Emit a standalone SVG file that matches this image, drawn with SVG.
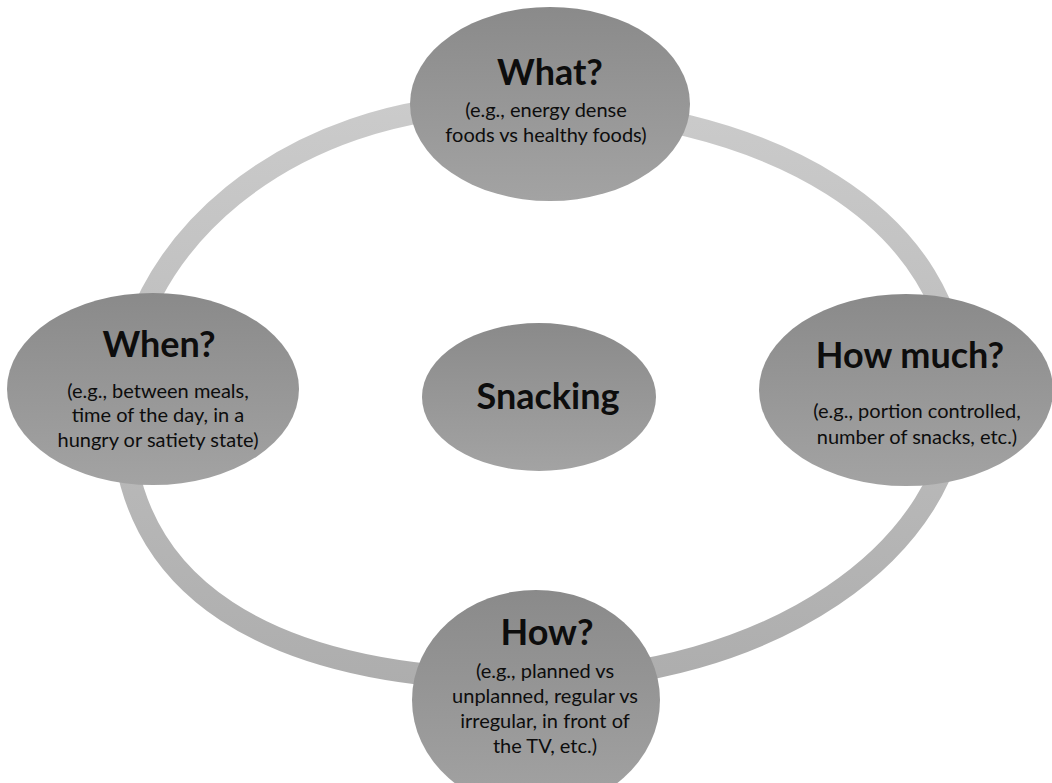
<svg xmlns="http://www.w3.org/2000/svg" width="1052" height="783" viewBox="0 0 1052 783">
  <defs>
    <!-- ring shading: lighter at the top, darker toward the bottom -->
    <linearGradient id="ringGrad" gradientUnits="userSpaceOnUse" x1="0" y1="100" x2="0" y2="690">
      <stop offset="0" stop-color="#cbcbcb"/>
      <stop offset="1" stop-color="#adadad"/>
    </linearGradient>
    <!-- node fill: darker top, lighter bottom -->
    <linearGradient id="nodeGrad" x1="0" y1="0" x2="0" y2="1">
      <stop offset="0" stop-color="#8a8a8a"/>
      <stop offset="1" stop-color="#a3a3a3"/>
    </linearGradient>
    <style>
      .node { fill: url(#nodeGrad); }
      .title { font-family: Lato, "Liberation Sans", sans-serif; font-weight: bold; font-size: 36px; fill: #0d0d0d; text-anchor: middle; }
      .sub { font-family: Lato, "Liberation Sans", sans-serif; font-size: 20px; fill: #0d0d0d; text-anchor: middle; }
      .ring { fill: none; stroke: url(#ringGrad); stroke-width: 22; }
    </style>
  </defs>

  <rect width="1052" height="783" fill="#ffffff"/>

  <!-- connecting ring -->
  <g id="connectors">
    <path class="ring" d="M 502,105 C 774,105 958,222 958,392 C 958,551 766,680 530,680 C 265,680 122,586 122,412 C 122,244 291,105 502,105 Z"/>
  </g>

  <g id="node-what">
    <ellipse class="node" cx="550" cy="104" rx="140" ry="97"/>
    <text class="title" x="550" y="85">What?</text>
    <text class="sub" x="546" y="117">(e.g., energy dense</text>
    <text class="sub" x="546" y="142">foods vs healthy foods)</text>
  </g>

  <g id="node-when">
    <ellipse class="node" cx="153" cy="389" rx="146" ry="96"/>
    <text class="title" x="159" y="357">When?</text>
    <text class="sub" x="158" y="398">(e.g., between meals,</text>
    <text class="sub" x="158" y="422">time of the day, in a</text>
    <text class="sub" x="158" y="447">hungry or satiety state)</text>
  </g>

  <g id="node-how-much">
    <ellipse class="node" cx="906" cy="390" rx="147" ry="96"/>
    <text class="title" x="910" y="368">How much?</text>
    <text class="sub" x="917" y="418">(e.g., portion controlled,</text>
    <text class="sub" x="917" y="444">number of snacks, etc.)</text>
  </g>

  <g id="node-how">
    <ellipse class="node" cx="536" cy="700" rx="124" ry="110"/>
    <text class="title" x="547" y="645">How?</text>
    <text class="sub" x="545" y="678">(e.g., planned vs</text>
    <text class="sub" x="545" y="703">unplanned, regular vs</text>
    <text class="sub" x="545" y="728">irregular, in front of</text>
    <text class="sub" x="545" y="753">the TV, etc.)</text>
  </g>

  <g id="node-snacking">
    <ellipse class="node" cx="539" cy="397" rx="117" ry="74"/>
    <text class="title" x="548" y="409">Snacking</text>
  </g>
</svg>
